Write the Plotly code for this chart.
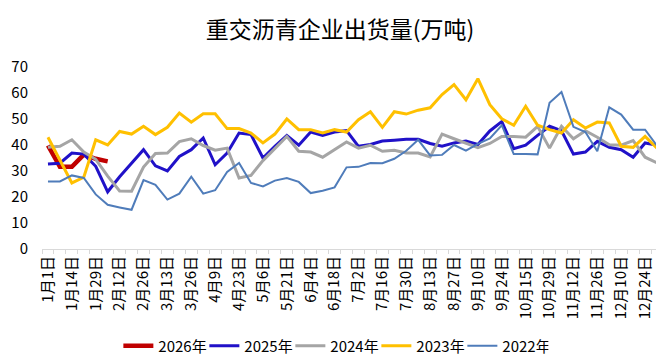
import plotly.graph_objects as go

# weekly categories (every other one is labelled on the axis)
dates = ["1月1日", "1月7日", "1月14日", "1月22日", "1月29日", "2月5日", "2月12日", "2月19日",
         "2月26日", "3月5日", "3月13日", "3月19日", "3月26日", "4月2日", "4月9日", "4月16日",
         "4月23日", "4月30日", "5月6日", "5月14日", "5月21日", "5月28日", "6月4日", "6月11日",
         "6月18日", "6月25日", "7月2日", "7月9日", "7月16日", "7月23日", "7月30日", "8月6日",
         "8月13日", "8月20日", "8月27日", "9月3日", "9月10日", "9月17日", "9月24日", "10月8日",
         "10月15日", "10月22日", "10月29日", "11月5日", "11月12日", "11月19日", "11月26日", "12月3日",
         "12月10日", "12月17日", "12月24日", "12月31日"]
tick_labels = dates[::2]

y2026 = [39.8, 31.6, 31.6, 36.3, 34.7, 33.7]
y2025 = [32.7, 33.0, 36.9, 36.5, 31.8, 22.0, 27.8, 33.0, 38.2, 32.0, 30.0, 35.6, 38.2, 42.7, 32.4, 36.9,
         44.6, 44.0, 35.0, 39.5, 43.7, 39.9, 45.0, 43.7, 45.0, 45.5, 39.5, 40.2, 41.5, 41.8, 42.2, 42.2,
         40.6, 39.5, 40.8, 41.5, 40.2, 45.4, 49.0, 38.6, 39.9, 43.7, 47.2, 45.5, 36.5, 37.3, 41.4, 39.1,
         38.2, 35.3, 40.8, 39.9]
y2024 = [39.1, 39.5, 42.0, 37.3, 34.5, 28.0, 22.3, 22.2, 31.5, 36.7, 36.9, 41.3, 42.4, 39.8, 38.0, 38.8,
         27.3, 28.3, 34.0, 38.8, 43.3, 37.6, 37.3, 35.3, 38.2, 41.2, 38.8, 39.9, 37.6, 38.0, 36.9, 36.9,
         35.4, 44.2, 42.4, 40.8, 39.0, 40.6, 43.3, 43.3, 43.0, 47.2, 38.8, 47.2, 42.4, 45.5, 43.0, 40.1,
         39.9, 41.7, 35.3, 33.1]
y2023 = [43.0, 34.0, 25.4, 27.6, 42.0, 40.0, 45.2, 44.2, 47.2, 44.0, 46.8, 52.3, 48.8, 52.0, 52.0, 46.3,
         46.3, 44.6, 40.8, 44.2, 50.0, 45.9, 45.9, 44.6, 45.9, 45.0, 49.7, 52.8, 46.8, 52.8, 51.9, 53.4,
         54.3, 59.4, 63.2, 57.4, 65.5, 55.5, 50.1, 47.6, 54.9, 47.6, 45.9, 44.6, 49.7, 46.5, 48.8, 48.5,
         39.5, 39.1, 43.3, 38.8]
y2022 = [26.0, 26.0, 28.3, 27.3, 21.0, 17.0, 16.0, 15.1, 26.5, 24.7, 19.0, 21.3, 27.8, 21.3, 22.6, 29.6,
         33.1, 25.4, 24.1, 26.3, 27.3, 25.8, 21.5, 22.4, 23.7, 31.4, 31.6, 33.1, 33.0, 34.7, 37.8, 42.0,
         36.0, 36.2, 40.0, 37.8, 40.4, 42.5, 47.6, 36.5, 36.5, 36.4, 56.2, 60.4, 47.0, 45.0, 37.6, 54.5,
         51.7, 45.9, 45.9, 39.7]

series = [
    ("2026年", y2026, "#C00000", 4.5),
    ("2025年", y2025, "#2011C8", 3),
    ("2024年", y2024, "#A5A5A5", 3),
    ("2023年", y2023, "#FFC000", 3),
    ("2022年", y2022, "#4F7CBA", 2),
]

x_idx = list(range(len(dates)))

fig = go.Figure()
for name, vals, color, width in series:
    fig.add_trace(go.Scatter(
        x=x_idx[:len(vals)], y=vals, name=name, mode="lines",
        line=dict(color=color, width=width),
        customdata=dates[:len(vals)],
        hovertemplate="%{customdata}: %{y}<extra>" + name + "</extra>",
    ))

font_family = "Noto Sans CJK SC, Noto Sans, sans-serif"

fig.update_layout(
    width=664, height=364,
    margin=dict(l=34, r=9, t=59, b=123, autoexpand=False),
    paper_bgcolor="white", plot_bgcolor="white",
    font=dict(family=font_family, size=14, color="#000000"),
    title=dict(text="重交沥青企业出货量(万吨)", x=0.5, xref="container", xanchor="center",
               y=1 - 22 / 364, yref="container", yanchor="middle",
               font=dict(size=23, color="#000000", family=font_family)),
    showlegend=True,
    legend=dict(orientation="h", x=0.49, xref="container", xanchor="center",
                y=1 - 338 / 364, yref="container", yanchor="middle",
                font=dict(size=15, family=font_family), itemwidth=30,
                entrywidth=41, entrywidthmode="pixels",
                tracegroupgap=0),
)

fig.update_xaxes(
    range=[-0.5, len(dates) - 0.5], automargin=False,
    tickmode="array", tickvals=x_idx[::2], ticktext=tick_labels,
    tickangle=-90, ticks="", tickfont=dict(size=15),
    showgrid=False, zeroline=False,
    showline=True, linecolor="#D9D9D9", linewidth=1,
    minor=dict(tickmode="linear", tick0=-0.5, dtick=1, ticks="outside",
               ticklen=4, tickcolor="#D9D9D9", showgrid=False),
)
fig.update_yaxes(
    range=[0, 70], tickmode="linear", tick0=0, dtick=10, automargin=False,
    showgrid=False, zeroline=False, showline=False, ticks="",
    tickfont=dict(size=15), ticklabelstandoff=13,
)

fig.write_html("out.html")
